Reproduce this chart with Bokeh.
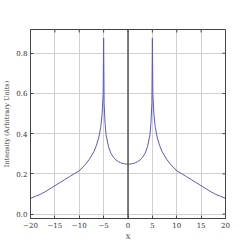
import math
from bokeh.plotting import figure
from bokeh.models import FixedTicker, CustomJSTickFormatter, Range1d, Span
from bokeh.embed import file_html
from bokeh.resources import INLINE

# left half of a symmetric intensity profile
x_half = [-20, -19, -18, -17, -16, -15, -14, -13, -12, -11, -10, -9, -8, -7, -6.5, -6,
          -5.6, -5.3, -5.1, -5.0, -4.9, -4.7, -4.5, -4, -3.5, -3, -2.5, -2, -1.5, -1, -0.5, 0]
y_half = [0.078, 0.088, 0.098, 0.111, 0.126, 0.141, 0.156, 0.171, 0.186, 0.201, 0.216, 0.24, 0.27,
          0.31, 0.34, 0.38, 0.43, 0.50, 0.60, 0.875, 0.55, 0.45, 0.395, 0.335, 0.302, 0.283,
          0.270, 0.261, 0.255, 0.251, 0.249, 0.248]
x_vals = x_half + [-v for v in reversed(x_half[:-1])]
y_vals = y_half + list(reversed(y_half[:-1]))

x_ticks = [-20, -15, -10, -5, 0, 5, 10, 15, 20]
y_ticks = [0.0, 0.2, 0.4, 0.6, 0.8]
x_lim = (-20, 20)
y_lim = (-0.022, 0.918)

FONT = "DejaVu Serif"

p = figure(frame_width=195, frame_height=189, output_backend="svg", toolbar_location=None,
           x_range=Range1d(*x_lim), y_range=Range1d(*y_lim),
           min_border_left=23, min_border_right=8, min_border_top=29, min_border_bottom=8)

p.line(x_vals, y_vals, line_color="#5858cc", line_width=1)
p.add_layout(Span(location=0, dimension="height", line_color="#555555", line_width=1.5))

# mirrored tick marks on the top and right edges (clipped to frame -> inward half)
p.scatter(x_ticks, [y_lim[1]] * len(x_ticks), marker="dash", size=6, angle=math.pi / 2,
          line_color="#444444", line_width=1)
p.scatter([x_lim[1]] * len(y_ticks), y_ticks, marker="dash", size=6,
          line_color="#444444", line_width=1)

xfmt = CustomJSTickFormatter(code="return tick.toFixed(0).replace('-', '\u2212');")
yfmt = CustomJSTickFormatter(code="return tick.toFixed(1);")

for ax in p.xaxis:
    ax.ticker = FixedTicker(ticks=x_ticks)
    ax.formatter = xfmt
    ax.axis_label = "X"
for ax in p.yaxis:
    ax.ticker = FixedTicker(ticks=y_ticks)
    ax.formatter = yfmt
    ax.axis_label = "Intensity (Arbitrary Units)"

for ax in p.axis:
    ax.major_tick_in = 3
    ax.major_tick_out = 0
    ax.minor_tick_in = 0
    ax.minor_tick_out = 0
    ax.major_label_text_font = FONT
    ax.major_label_text_font_size = "7px"
    ax.major_label_standoff = 3
    ax.axis_label_text_font = FONT
    ax.axis_label_text_font_size = "6.5px"
    ax.axis_label_text_font_style = "normal"
    ax.axis_label_standoff = 2
    ax.axis_line_color = "#444444"
    ax.major_tick_line_color = "#444444"
    ax.major_label_text_color = "#333333"
    ax.axis_label_text_color = "#333333"

p.grid.grid_line_color = "#d0d0d0"
p.grid.grid_line_width = 1
p.outline_line_color = "#444444"
p.background_fill_color = "white"
p.border_fill_color = "white"

open("out.html", "w").write(file_html(p, INLINE))
